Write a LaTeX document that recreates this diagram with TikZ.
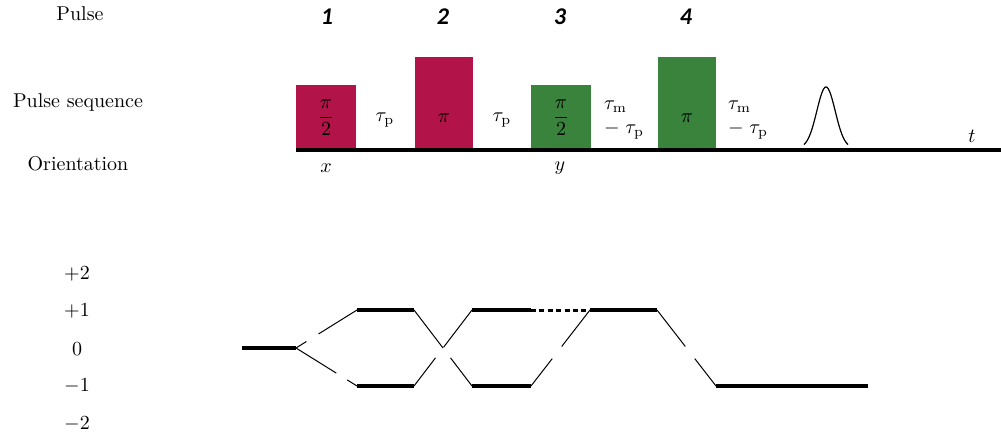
\documentclass[tikz,border=0pt]{standalone}
\usepackage{amsmath}
\usepackage{amssymb}
\usepackage{fontspec}
\newfontfamily\numfont{Carlito}
\usepackage{tikz}
\usetikzlibrary{calc}

\definecolor{pulsered}{RGB}{178,19,72}
\definecolor{pulsegreen}{RGB}{58,131,60}

% connector with a small break in it
\newcommand{\gapline}[4]{%
  \draw[conn] (#1) -- ($(#1)!#3!(#2)$);
  \draw[conn] ($(#1)!#4!(#2)$) -- (#2);}

\begin{document}
\begin{tikzpicture}[x=0.5pt,y=-0.5pt,
  pulse/.style={draw=none,inner sep=0pt,anchor=south west},
  level/.style={line width=1.8pt},
  conn/.style={line width=0.5pt},
  pnum/.style={font=\numfont\large\bfseries\itshape}]
  \useasboundingbox (0,0) rectangle (1001,439);

  % row labels
  \node (pulselab) at (80,14) {Pulse};
  \node (seqlab) at (78,102) {Pulse sequence};
  \node (orilab) at (78,164) {Orientation};

  % time axis
  \coordinate (t0) at (296,149.7);
  \coordinate (tend) at (1001,149.7);
  \draw[line width=2pt] (t0) -- (tend);
  \node (tlab) at (972,136) {$t$};

  % pulses
  \node[pulse,fill=pulsered,minimum width=30pt,minimum height=31.5pt] (p1) at (296,148) {};
  \node[pulse,fill=pulsered,minimum width=29pt,minimum height=45.5pt] (p2) at (415,148) {};
  \node[pulse,fill=pulsegreen,minimum width=30pt,minimum height=31.5pt] (p3) at (531,148) {};
  \node[pulse,fill=pulsegreen,minimum width=29pt,minimum height=45.5pt] (p4) at (658,148) {};

  \node (f1) at (326,118) {$\dfrac{\pi}{2}$};
  \node (f2) at (444,118) {$\pi$};
  \node (f3) at (561,118) {$\dfrac{\pi}{2}$};
  \node (f4) at (687,118) {$\pi$};

  \node[pnum] (n1) at (327,17) {1};
  \node[pnum] (n2) at (443,17) {2};
  \node[pnum] (n3) at (560,17) {3};
  \node[pnum] (n4) at (686,17) {4};

  % delays
  \node (d1) at (385,120) {$\tau_\mathrm{p}$};
  \node (d2) at (502,120) {$\tau_\mathrm{p}$};
  \node[align=left] (d3) at (624,120) {$\tau_\mathrm{m}$\\$-\;\tau_\mathrm{p}$};
  \node[align=left] (d4) at (748,120) {$\tau_\mathrm{m}$\\$-\;\tau_\mathrm{p}$};

  % echo
  \draw[line width=0.6pt] plot[domain=-22:22,samples=60,smooth]
    ({826+\x},{148-61*exp(-(\x/13)^2)});

  % phases
  \node (ox) at (326,168) {$x$};
  \node (oy) at (560,168) {$y$};

  % coherence order levels
  \foreach \m/\yy [count=\i] in {+2/274,+1/311,0/349,-1/386,-2/424}
    \node (lv\i) at (77,\yy) {$\m$};

  \coordinate (a0) at (242,348);
  \coordinate (b0) at (296,348);
  \coordinate (c1) at (357,310);
  \coordinate (d1) at (414,310);
  \coordinate (c2) at (357,386);
  \coordinate (d2) at (414,386);
  \coordinate (e1) at (472,310);
  \coordinate (g1) at (531,310);
  \coordinate (e2) at (472,386);
  \coordinate (g2) at (531,386);
  \coordinate (h1) at (590,310);
  \coordinate (k1) at (657,310);
  \coordinate (m2) at (716,386);
  \coordinate (q2) at (868,386);

  \draw[level] (a0) -- (b0);
  \draw[level] (c1) -- (d1);
  \draw[level] (c2) -- (d2);
  \draw[level] (e1) -- (g1);
  \draw[level] (e2) -- (g2);
  \draw[level] (h1) -- (k1);
  \draw[level] (m2) -- (q2);
  \draw[line width=1.5pt,dash pattern=on 2.5pt off 1.7pt] (g1) -- (h1);

  % pathways
  \gapline{b0}{c1}{0.17}{0.37}
  \gapline{b0}{c2}{0.66}{0.84}
  \gapline{d1}{e2}{0.5}{0.63}
  \gapline{d2}{e1}{0.37}{0.51}
  \gapline{g2}{h1}{0.36}{0.52}
  \gapline{k1}{m2}{0.48}{0.64}

\end{tikzpicture}
\end{document}
